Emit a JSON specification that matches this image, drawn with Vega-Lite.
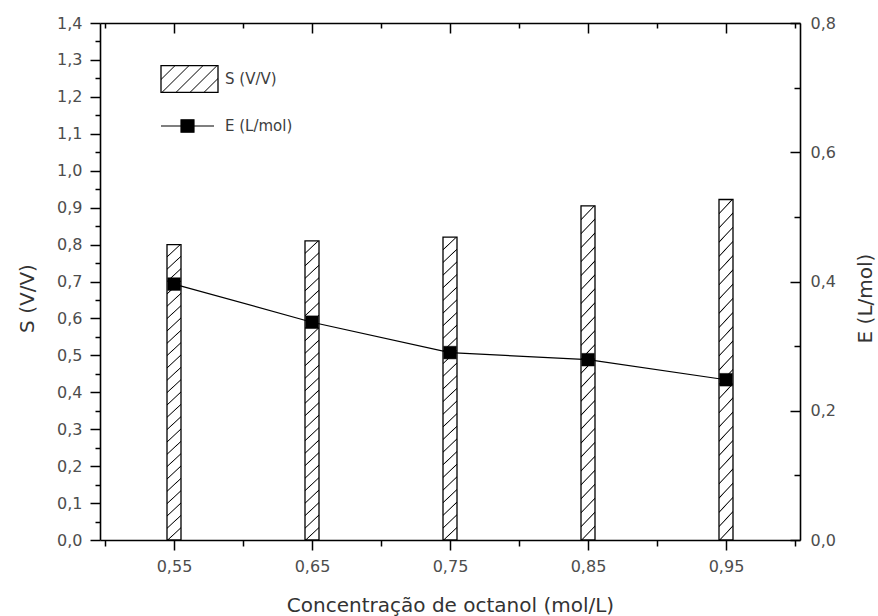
{
  "$schema": "https://vega.github.io/schema/vega-lite/v6.json",
  "width": 700,
  "height": 517,
  "autosize": "none",
  "padding": {"left": 100, "top": 23, "right": 78, "bottom": 76},
  "background": "white",
  "data": {"values": [
    {"c": 0.55, "S": 0.80, "E": 0.396},
    {"c": 0.65, "S": 0.81, "E": 0.337},
    {"c": 0.75, "S": 0.82, "E": 0.290},
    {"c": 0.85, "S": 0.905, "E": 0.279},
    {"c": 0.95, "S": 0.922, "E": 0.248}
  ]},
  "layer": [
    {
      "mark": {"type": "bar", "size": 14, "stroke": "black", "strokeWidth": 1.3,
        "fill": {"gradient": "linear", "x1": 0, "y1": 0, "x2": 0.0458, "y2": 1.042, "stops": [
            {"offset": 0, "color": "#000"}, {"offset": 0.0035, "color": "#fff"}, {"offset": 0.0365, "color": "#fff"},
            {"offset": 0.04, "color": "#000"}, {"offset": 0.0435, "color": "#fff"}, {"offset": 0.0765, "color": "#fff"},
            {"offset": 0.08, "color": "#000"}, {"offset": 0.0835, "color": "#fff"}, {"offset": 0.1165, "color": "#fff"},
            {"offset": 0.12, "color": "#000"}, {"offset": 0.1235, "color": "#fff"}, {"offset": 0.1565, "color": "#fff"},
            {"offset": 0.16, "color": "#000"}, {"offset": 0.1635, "color": "#fff"}, {"offset": 0.1965, "color": "#fff"},
            {"offset": 0.2, "color": "#000"}, {"offset": 0.2035, "color": "#fff"}, {"offset": 0.2365, "color": "#fff"},
            {"offset": 0.24, "color": "#000"}, {"offset": 0.2435, "color": "#fff"}, {"offset": 0.2765, "color": "#fff"},
            {"offset": 0.28, "color": "#000"}, {"offset": 0.2835, "color": "#fff"}, {"offset": 0.3165, "color": "#fff"},
            {"offset": 0.32, "color": "#000"}, {"offset": 0.3235, "color": "#fff"}, {"offset": 0.3565, "color": "#fff"},
            {"offset": 0.36, "color": "#000"}, {"offset": 0.3635, "color": "#fff"}, {"offset": 0.3965, "color": "#fff"},
            {"offset": 0.4, "color": "#000"}, {"offset": 0.4035, "color": "#fff"}, {"offset": 0.4365, "color": "#fff"},
            {"offset": 0.44, "color": "#000"}, {"offset": 0.4435, "color": "#fff"}, {"offset": 0.4765, "color": "#fff"},
            {"offset": 0.48, "color": "#000"}, {"offset": 0.4835, "color": "#fff"}, {"offset": 0.5165, "color": "#fff"},
            {"offset": 0.52, "color": "#000"}, {"offset": 0.5235, "color": "#fff"}, {"offset": 0.5565, "color": "#fff"},
            {"offset": 0.56, "color": "#000"}, {"offset": 0.5635, "color": "#fff"}, {"offset": 0.5965, "color": "#fff"},
            {"offset": 0.6, "color": "#000"}, {"offset": 0.6035, "color": "#fff"}, {"offset": 0.6365, "color": "#fff"},
            {"offset": 0.64, "color": "#000"}, {"offset": 0.6435, "color": "#fff"}, {"offset": 0.6765, "color": "#fff"},
            {"offset": 0.68, "color": "#000"}, {"offset": 0.6835, "color": "#fff"}, {"offset": 0.7165, "color": "#fff"},
            {"offset": 0.72, "color": "#000"}, {"offset": 0.7235, "color": "#fff"}, {"offset": 0.7565, "color": "#fff"},
            {"offset": 0.76, "color": "#000"}, {"offset": 0.7635, "color": "#fff"}, {"offset": 0.7965, "color": "#fff"},
            {"offset": 0.8, "color": "#000"}, {"offset": 0.8035, "color": "#fff"}, {"offset": 0.8365, "color": "#fff"},
            {"offset": 0.84, "color": "#000"}, {"offset": 0.8435, "color": "#fff"}, {"offset": 0.8765, "color": "#fff"},
            {"offset": 0.88, "color": "#000"}, {"offset": 0.8835, "color": "#fff"}, {"offset": 0.9165, "color": "#fff"},
            {"offset": 0.92, "color": "#000"}, {"offset": 0.9235, "color": "#fff"}, {"offset": 0.9565, "color": "#fff"},
            {"offset": 0.96, "color": "#000"}, {"offset": 0.9635, "color": "#fff"}, {"offset": 0.9965, "color": "#fff"},
            {"offset": 1, "color": "#000"}
          ]}},
      "encoding": {
        "x": {"field": "c", "type": "quantitative",
          "scale": {"domain": [0.5, 1.0], "nice": false, "zero": false},
          "axis": {"orient": "bottom",
            "values": [0.5, 0.55, 0.6, 0.65, 0.7, 0.75, 0.8, 0.85, 0.9, 0.95, 1.0],
            "tickSize": {"condition": {"test": "round(datum.value*100)%10==5", "value": 10}, "value": 6},
            "labelExpr": "round(datum.value*100)%10==5 ? replace(format(datum.value,'.2f'),'.',',') : ''",
            "labelPadding": 8, "labelOverlap": false, "labelFlush": false, "labelBound": false,
            "title": "Concentração de octanol (mol/L)", "titleFontSize": 20,
            "titleY": 71, "titleBaseline": "alphabetic"}},
        "y": {"field": "S", "type": "quantitative",
          "scale": {"domain": [0, 1.4], "nice": false, "zero": true},
          "axis": {"orient": "left",
            "values": [0, 0.05, 0.1, 0.15, 0.2, 0.25, 0.3, 0.35, 0.4, 0.45, 0.5, 0.55, 0.6, 0.65, 0.7, 0.75, 0.8, 0.85, 0.9, 0.95, 1.0, 1.05, 1.1, 1.15, 1.2, 1.25, 1.3, 1.35, 1.4],
            "tickSize": {"condition": {"test": "round(datum.value*100)%10==0", "value": 10}, "value": 5},
            "labelExpr": "round(datum.value*100)%10==0 ? replace(format(datum.value,'.1f'),'.',',') : ''",
            "labelPadding": 8, "labelOverlap": false, "labelFlush": false, "labelBound": false,
            "title": "S (V/V)", "titleFontSize": 20, "titleAngle": 270,
            "titleX": -73, "titleY": 275, "titleAlign": "center", "titleBaseline": "middle"}},
        "opacity": {"datum": "S (V/V)", "type": "nominal",
          "scale": {"range": [1]},
          "legend": {"orient": "none", "legendX": 60, "legendY": 26.5, "title": null, "padding": 0,
            "symbolType": "M-1,-0.47H1V0.47H-1Z", "symbolSize": 3249,
            "symbolStrokeColor": "black", "symbolStrokeWidth": 1.2,
            "labelOffset": 6,
            "encoding": {"symbols": {
              "stroke": {"value": "black"},
              "strokeWidth": {"value": 1.3},
              "fill": {"value": {"gradient": "linear", "x1": 0, "y1": 0, "x2": 1.2035, "y2": 0.5705, "stops": [
              {"offset": 0, "color": "#000"}, {"offset": 0.012, "color": "#fff"}, {"offset": 0.155, "color": "#fff"},
              {"offset": 0.1667, "color": "#000"}, {"offset": 0.179, "color": "#fff"}, {"offset": 0.321, "color": "#fff"},
              {"offset": 0.3333, "color": "#000"}, {"offset": 0.345, "color": "#fff"}, {"offset": 0.488, "color": "#fff"},
              {"offset": 0.5, "color": "#000"}, {"offset": 0.512, "color": "#fff"}, {"offset": 0.655, "color": "#fff"},
              {"offset": 0.6667, "color": "#000"}, {"offset": 0.679, "color": "#fff"}, {"offset": 0.821, "color": "#fff"},
              {"offset": 0.8333, "color": "#000"}, {"offset": 0.845, "color": "#fff"}, {"offset": 1, "color": "#fff"}
            ]}}}}}
        }
      }
    },
    {
      "mark": {"type": "line", "strokeWidth": 1.2,
        "point": {"shape": "square", "size": 160, "filled": true, "fill": "black", "stroke": "black", "strokeWidth": 0.5}},
      "encoding": {
        "x": {"field": "c", "type": "quantitative",
          "axis": {"orient": "top",
            "values": [0.5, 0.55, 0.6, 0.65, 0.7, 0.75, 0.8, 0.85, 0.9, 0.95, 1.0],
            "tickSize": {"condition": {"test": "round(datum.value*100)%10==5", "value": -10}, "value": -5},
            "labels": false, "title": null}},
        "y": {"field": "E", "type": "quantitative",
          "scale": {"domain": [0, 0.8], "nice": false, "zero": true},
          "axis": {"orient": "right",
            "values": [0, 0.1, 0.2, 0.3, 0.4, 0.5, 0.6, 0.7, 0.8],
            "tickSize": {"condition": {"test": "round(datum.value*10)%2==0", "value": -10}, "value": -6},
            "labelExpr": "round(datum.value*10)%2==0 ? replace(format(datum.value,'.1f'),'.',',') : ''",
            "labelPadding": 20, "labelOverlap": false, "labelFlush": false, "labelBound": false,
            "title": "E (L/mol)", "titleFontSize": 20, "titleAngle": 270,
            "titleX": 65, "titleY": 275, "titleAlign": "center", "titleBaseline": "middle"}},
        "stroke": {"datum": "E  (L/mol)", "type": "nominal",
          "scale": {"range": ["black"]},
          "legend": {"orient": "none", "legendX": 60, "legendY": 75.5, "title": null, "padding": 0,
            "symbolType": "M-1,0H1M-0.245,-0.235H0.245V0.235H-0.245Z", "symbolSize": 2809,
            "symbolFillColor": "black", "symbolStrokeColor": "black", "symbolStrokeWidth": 1.2,
            "labelOffset": 10,
            "encoding": {"symbols": {"fill": {"value": "black"}}}}
        }
      }
    }
  ],
  "resolve": {"scale": {"y": "independent"}, "axis": {"x": "independent", "y": "independent"}},
  "config": {
    "view": {"stroke": null},
    "font": "DejaVu Sans",
    "axis": {
      "grid": false,
      "domainColor": "black", "domainWidth": 1.6,
      "tickColor": "black", "tickWidth": 1.5,
      "labelFont": "DejaVu Sans", "labelFontSize": 16, "labelColor": "#4d4d4d",
      "titleFont": "DejaVu Sans", "titleFontWeight": "normal", "titleColor": "#333333"
    },
    "legend": {
      "labelFont": "DejaVu Sans", "labelFontSize": 15, "labelColor": "#3d3d3d",
      "rowPadding": 0
    }
  }
}
